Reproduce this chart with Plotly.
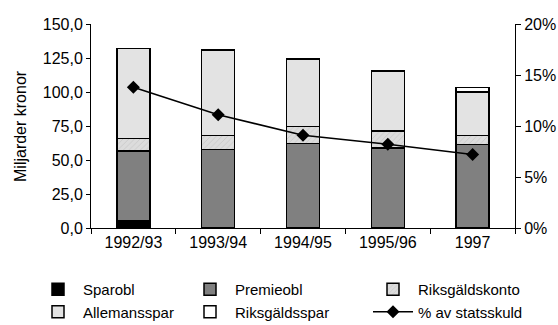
import plotly.graph_objects as go

categories = ["1992/93", "1993/94", "1994/95", "1995/96", "1997"]
sparobl = [5.6, 0.0, 0.0, 0.0, 0.0]
premieobl = [51.2, 57.8, 62.3, 59.0, 61.5]
riksgaldskonto = [9.1, 10.3, 12.2, 12.3, 6.4]
allemansspar = [66.2, 62.8, 49.8, 44.1, 32.1]
riksgaldsspar = [0.0, 0.0, 0.0, 0.0, 3.4]
pct_statsskuld = [13.8, 11.1, 9.1, 8.2, 7.2]
y_title = "Miljarder kronor"

FONT = "Liberation Sans, Arial, sans-serif"
line_w = 1.5
W, H = 558, 325
L, R, T, B = 91, 43, 24, 97

fig = go.Figure()
bar_specs = [
    ("Sparobl", sparobl, "#000000", None, "legend"),
    ("Premieobl", premieobl, "#808080", None, "legend2"),
    ("Riksgäldskonto", riksgaldskonto, "#dcdcdc", "/", "legend3"),
    ("Allemansspar", allemansspar, "#e3e3e3", None, "legend"),
    ("Riksgäldsspar", riksgaldsspar, "#ffffff", None, "legend2"),
]
for name, vals, color, pat, leg in bar_specs:
    marker = dict(color=color, line=dict(color="#000000", width=line_w))
    if pat:
        marker["pattern"] = dict(shape=pat, fgcolor="#b0b0b0", bgcolor=color, size=4, solidity=0.2)
    fig.add_trace(go.Bar(x=categories, y=vals, name=name, marker=marker, width=0.39,
                         legend=leg, legendgroup=name))

fig.add_trace(go.Scatter(
    x=categories, y=pct_statsskuld, name="% av statsskuld", yaxis="y2",
    mode="lines+markers", line=dict(color="#000000", width=1.5),
    marker=dict(symbol="diamond", size=10, color="#000000"),
    legend="legend3", legendgroup="pct",
))

def leg(x_text_px):
    return dict(
        orientation="v", traceorder="normal",
        xref="container", yref="container",
        x=(x_text_px - 50) / W, y=1 - 273 / H, xanchor="left", yanchor="top",
        font=dict(family=FONT, size=15), itemwidth=40,
        tracegroupgap=18, bgcolor="rgba(0,0,0,0)",
    )

fig.update_layout(
    width=W, height=H,
    margin=dict(l=L, r=R, t=T, b=B, autoexpand=False),
    barmode="stack",
    separators=", ",
    plot_bgcolor="#ffffff", paper_bgcolor="#ffffff",
    font=dict(family=FONT, size=16, color="#000000"),
    showlegend=True,
    legend=leg(83), legend2=leg(235), legend3=leg(418),
    xaxis=dict(
        showline=True, linecolor="#000000", linewidth=1,
        ticks="outside", tickson="boundaries", ticklen=5, tickcolor="#000000",
        showgrid=False, tickfont=dict(size=16),
    ),
    yaxis=dict(
        range=[0, 150], dtick=25, tickformat=".1f",
        showline=True, linecolor="#000000", linewidth=1,
        ticks="outside", ticklen=4, tickcolor="#000000",
        showgrid=False, zeroline=False, tickfont=dict(size=16),
    ),
    yaxis2=dict(
        range=[0, 20], dtick=5, ticksuffix="%", overlaying="y", side="right",
        showline=True, linecolor="#000000", linewidth=1,
        ticks="outside", ticklen=5, tickcolor="#000000",
        showgrid=False, zeroline=False, tickfont=dict(size=16),
    ),
    annotations=[dict(
        text=y_title, textangle=-90, showarrow=False,
        xref="paper", yref="paper", x=(20 - L) / (W - L - R), y=0.5,
        xanchor="center", yanchor="middle", font=dict(family=FONT, size=16),
    )],
)

fig.write_html("out.html", post_script="document.body.style.margin='0';",
               config={"displayModeBar": False})
